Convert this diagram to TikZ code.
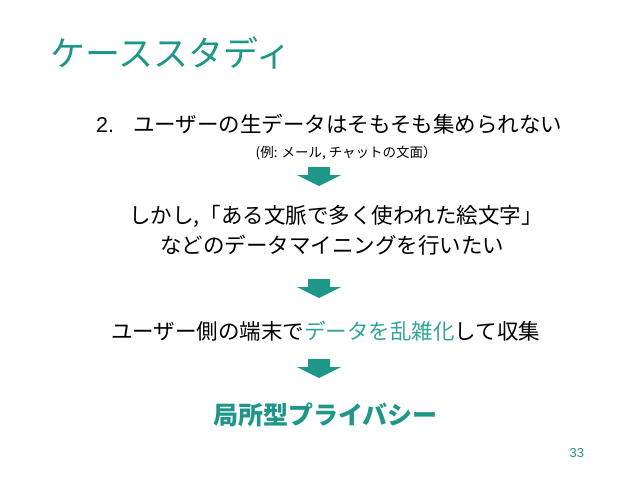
\documentclass[tikz,border=0pt]{standalone}
\usepackage{fontspec}
\setmainfont{Liberation Sans}
\newfontfamily\jpfont{Noto Sans CJK JP}
\definecolor{slideteal}{RGB}{30,150,136}
\definecolor{lightteal}{RGB}{50,165,152}

\begin{document}
\begin{tikzpicture}[
        x=1pt, y=-1pt,
        heading/.style={
            anchor=base west, inner sep=0pt, color=slideteal,
            font=\jpfont\fontsize{35}{40}\selectfont
        },
        line/.style={
            anchor=base west, inner sep=0pt, color=black,
            font=\jpfont\fontsize{21.5}{26}\selectfont
        },
        remark/.style={
            anchor=base west, inner sep=0pt, color=black,
            font=\jpfont\fontsize{13.5}{16}\selectfont
        },
        goal/.style={
            line, color=slideteal, font=\jpfont\bfseries\fontsize{25}{30}\selectfont
        },
        downarrow/.style={
            fill=slideteal, draw=none
        },
    ]
    \useasboundingbox (0,0) rectangle (638,479);

    \node (caseStudy) [heading] at (50,66) {ケーススタディ};

    \node (rawData) [line] at (96,132.2) {\fontspec{Liberation Sans}2.\hspace{19pt}\jpfont ユーザーの生データはそもそも集められない};
    \node (rawDataNote) [remark] at (255.5,157.1) {(例: メール, チャットの文面）};

    \coordinate (arrowOne) at (319,167);
    \fill[downarrow] (arrowOne) ++(-11,0) -- ++(22,0) -- ++(0,8) -- ++(11,0) -- ++(-22,11) -- ++(-22,-11) -- ++(11,0) -- cycle;

    \node (wantMining) [line] at (129,223.2) {しかし,「ある文脈で多く使われた絵文字」};
    \node (wantMiningCont) [line] at (160,253.2) {などのデータマイニングを行いたい};

    \coordinate (arrowTwo) at (319,279);
    \fill[downarrow] (arrowTwo) ++(-11,0) -- ++(22,0) -- ++(0,8) -- ++(11,0) -- ++(-22,11) -- ++(-22,-11) -- ++(11,0) -- cycle;

    \node (randomize) [line] at (111,339.7) {ユーザー側の端末で{\color{lightteal}データを乱雑化}して収集};

    \coordinate (arrowThree) at (319,359);
    \fill[downarrow] (arrowThree) ++(-11,0) -- ++(22,0) -- ++(0,8) -- ++(11,0) -- ++(-22,11) -- ++(-22,-11) -- ++(11,0) -- cycle;

    \node (localPrivacy) [goal] at (213,424.5) {局所型プライバシー};

    \node (pageNum) [anchor=base west, inner sep=0pt, color=slideteal, font=\fontsize{13}{15}\selectfont] at (569.5,457.5) {33};

\end{tikzpicture}
\end{document}
